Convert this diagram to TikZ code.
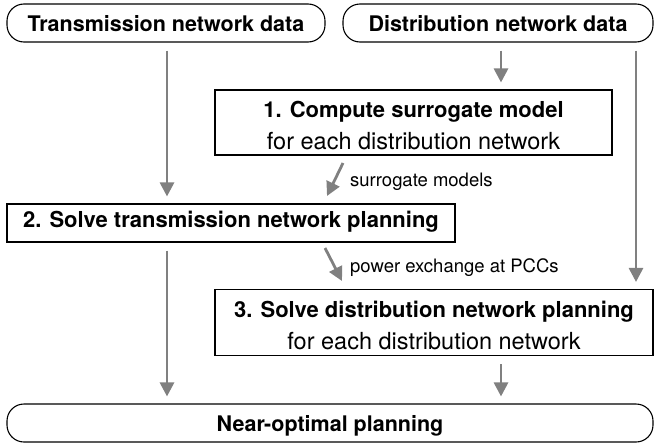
\documentclass[tikz,border=0pt]{standalone}
\usepackage{fontspec}
\setmainfont{TeX Gyre Heros}
\usetikzlibrary{arrows.meta}
\definecolor{arrowgray}{RGB}{128,128,128}

\begin{document}
\begin{tikzpicture}[x=1pt,y=-1pt,
  pill/.style={draw, line width=1.1pt, rounded corners=17pt, minimum height=38pt,
    inner sep=0pt, text depth=0pt, font=\bfseries\fontsize{21.5}{26}\selectfont},
  stepbox/.style={draw, line width=1.1pt, inner sep=0pt},
  head/.style={inner sep=0pt, anchor=base, font=\bfseries\fontsize{22}{26}\selectfont},
  sub/.style={inner sep=0pt, anchor=base, font=\fontsize{23.5}{28}\selectfont},
  note/.style={inner sep=0pt, anchor=base west, font=\fontsize{18.5}{22}\selectfont},
  flow/.style={draw=arrowgray, line width=2.8pt, shorten <=8pt, shorten >=7pt,
    -{Triangle[length=14pt,width=14pt]}}]

\useasboundingbox (0,0) rectangle (655,447);

% inputs
\node[pill, minimum width=318pt] (tdata) at (166,23) {Transmission network data};
\node[pill, minimum width=310pt] (ddata) at (498,23) {Distribution network data};

% planning steps
\node[stepbox, minimum width=397pt, minimum height=65pt] (s1) at (413.5,122.5) {};
\path (s1.north) ++(0,28.5) node[head] {1. Compute surrogate model}
      ++(0,32) node[sub] {for each distribution network};

\node[stepbox, minimum width=448pt, minimum height=38pt] (s2) at (231,223) {};
\path (s2.north) ++(0,24) node[head] {2. Solve transmission network planning};

\node[stepbox, minimum width=438pt, minimum height=66pt] (s3) at (434,322.5) {};
\path (s3.north) ++(0,29) node[head] {3. Solve distribution network planning}
      ++(0,32) node[sub] {for each distribution network};

% result
\node[pill, minimum width=646pt] (final) at (330,423) {Near-optimal planning};

% arrow columns
\coordinate (colL) at (167,0);
\coordinate (colM) at (501,0);
\coordinate (colR) at (636,0);

\draw[flow] (tdata.south -| colL) -- (s2.north -| colL);
\draw[flow] (ddata.south -| colM) -- (s1.north -| colM);
\draw[flow] (ddata.south -| colR) -- (s3.north -| colR);
\draw[flow] (s2.south -| colL) -- (final.north -| colL);
\draw[flow] (s3.south -| colM) -- (final.north -| colM);

% exchange between the steps
\coordinate (surA) at (343,163);
\coordinate (surB) at (327,196);
\coordinate (powA) at (325,248);
\coordinate (powB) at (342,281);
\draw[flow, shorten <=0pt, shorten >=0pt] (surA) -- (surB);
\draw[flow, shorten <=0pt, shorten >=0pt] (powA) -- (powB);
\node[note] (surlbl) at (350,186) {surrogate models};
\node[note] (powlbl) at (350,272) {power exchange at PCCs};

\end{tikzpicture}
\end{document}
